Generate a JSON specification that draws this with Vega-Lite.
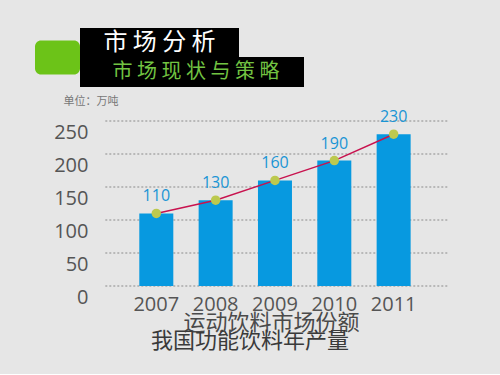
{
  "$schema": "https://vega.github.io/schema/vega-lite/v6.json",
  "background": "#e6e6e6",
  "padding": {"left": 35, "top": 28, "right": 53, "bottom": 22},
  "config": {"font": "Noto Sans CJK SC", "view": {"stroke": null}},
  "spacing": 8,
  "vconcat": [
    {
      "hconcat": [
        {
          "width": 45, "height": 34,
          "view": {"fill": "#6cc318", "stroke": null, "cornerRadius": 6},
          "data": {"values": [{"t": ""}]},
          "mark": {"type": "text"},
          "encoding": {"text": {"field": "t"}}
        },
        {
          "spacing": 0,
          "vconcat": [
            {
              "width": 159, "height": 29,
              "view": {"fill": "#000000", "stroke": null},
              "data": {"values": [{"t": "市 场 分 析"}]},
              "mark": {"type": "text", "color": "#ffffff", "fontSize": 24, "baseline": "middle"},
              "encoding": {"text": {"field": "t"}}
            },
            {
              "width": 224, "height": 30,
              "view": {"fill": "#000000", "stroke": null},
              "data": {"values": [{"t": "市 场 现 状 与 策 略"}]},
              "mark": {"type": "text", "color": "#72c442", "fontSize": 20, "baseline": "middle", "dx": 4},
              "encoding": {"text": {"field": "t"}}
            }
          ]
        }
      ],
      "spacing": 0,
      "center": true
    },
    {
      "width": 390,
      "height": 165,
      "title": {"text": "我国功能饮料年产量", "orient": "bottom", "anchor": "middle", "dx": 20, "offset": -2, "fontSize": 22, "fontWeight": "normal", "color": "#3a3a3a"},
      "data": {"values": [
        {"year": "2007", "value": 110},
        {"year": "2008", "value": 130},
        {"year": "2009", "value": 160},
        {"year": "2010", "value": 190},
        {"year": "2011", "value": 230}
      ]},
      "encoding": {
        "x": {
          "field": "year", "type": "nominal",
          "scale": {"paddingInner": 0.427, "paddingOuter": 1, "align": 0.879},
          "axis": {
            "title": "运动饮料市场份额", "titleFontSize": 22, "titleFontWeight": "normal", "titleColor": "#4a4a4a",
            "titleX": 236, "titleY": 36, "titleBaseline": "middle",
            "labelAngle": 0, "labelFontSize": 20, "labelColor": "#555555", "labelPadding": 8,
            "ticks": false, "domain": false, "labelFont": "Open Sans"
          }
        },
        "y": {
          "field": "value", "type": "quantitative",
          "scale": {"domain": [0, 250], "nice": false},
          "axis": {
            "values": [0, 50, 100, 150, 200, 250],
            "title": "单位：万吨", "titleAngle": 0, "titleAlign": "left", "titleBaseline": "middle",
            "titleX": 28, "titleY": -20, "titleFontSize": 11, "titleFontWeight": "normal", "titleColor": "#777777",
            "labelFontSize": 20, "labelColor": "#555555", "labelFont": "Open Sans",
            "labelOffset": 11, "ticks": false, "tickSize": 0, "labelPadding": -53,
            "domain": false, "grid": false
          }
        }
      },
      "layer": [
        {
          "data": {"values": [{"g": 0}, {"g": 50}, {"g": 100}, {"g": 150}, {"g": 200}, {"g": 250}]},
          "mark": {"type": "rule", "color": "#8a8a8a", "strokeDash": [2, 2], "strokeWidth": 1},
          "encoding": {
            "y": {"field": "g", "type": "quantitative"},
            "x": {"datum": "2007", "bandPosition": -1.0},
            "x2": {"datum": "2011", "bandPosition": 2.09}
          }
        },
        {"mark": {"type": "bar", "color": "#0799e0"}},
        {"mark": {"type": "line", "color": "#c8124e", "strokeWidth": 1.5}},
        {"mark": {"type": "point", "filled": true, "color": "#bcc94e", "size": 90, "opacity": 1}},
        {"mark": {"type": "text", "color": "#1a95d5", "fontSize": 16, "dy": -17, "font": "Open Sans"}, "encoding": {"text": {"field": "value"}}}
      ]
    }
  ]
}
